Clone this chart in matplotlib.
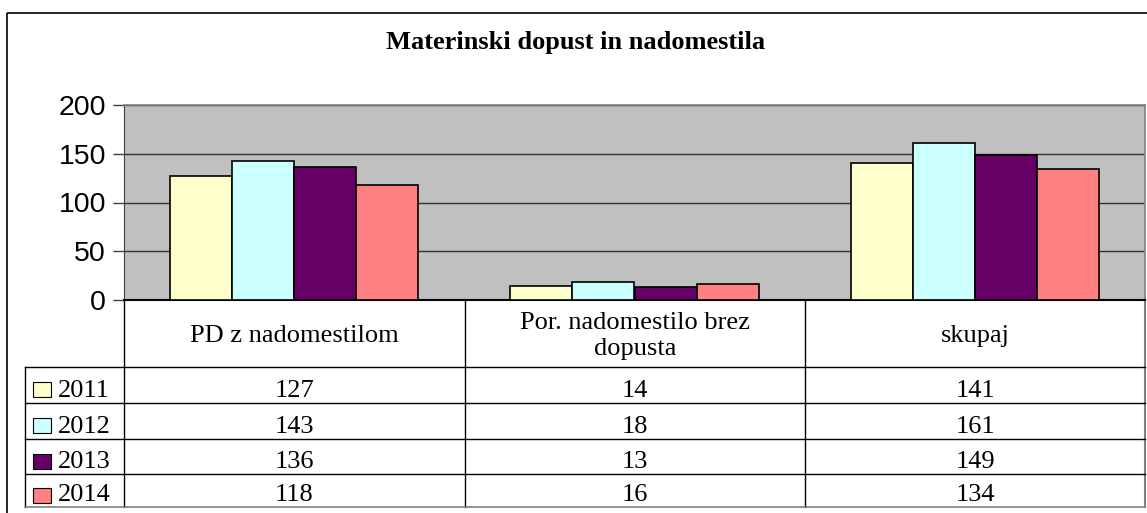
import matplotlib

matplotlib.use("Agg")
import matplotlib.pyplot as plt  # noqa: E402
from matplotlib.patches import Rectangle  # noqa: E402

categories = ["PD z nadomestilom", "Por. nadomestilo brez\ndopusta", "skupaj"]
years = ["2011", "2012", "2013", "2014"]
v2011 = [127, 14, 141]
v2012 = [143, 18, 161]
v2013 = [136, 13, 149]
v2014 = [118, 16, 134]
series = [v2011, v2012, v2013, v2014]
colors = ["#FFFFCC", "#CCFFFF", "#660066", "#FF8080"]

W, H = 1147, 513
fig = plt.figure(figsize=(W / 100, H / 100), dpi=100)

# pixel-space overlay for frame, title and data table
ov = fig.add_axes([0, 0, 1, 1])
ov.set_xlim(0, W)
ov.set_ylim(H, 0)
ov.axis("off")
ov.add_patch(Rectangle((7, 12.5), 1160, 520, fill=False, lw=1.2, ec="black"))
ov.text(576, 43, "Materinski dopust in nadomestila", ha="center", va="center",
        fontsize=19, fontweight="bold", family="Liberation Serif")

# bar chart
L, R, T, B = 124, 1145, 105, 300
ax = fig.add_axes([L / W, (H - B) / H, (R - L) / W, (B - T) / H])
ax.set_facecolor("#C0C0C0")
n = len(series)
bw = 0.73 / n
for i, (vals, c) in enumerate(zip(series, colors)):
    xs = [k - 0.365 + bw * (i + 0.5) for k in range(len(categories))]
    ax.bar(xs, vals, width=bw, color=c, edgecolor="black", lw=1.2, zorder=3)
ax.set_xlim(-0.5, len(categories) - 0.5)
ax.set_ylim(0, 200)
ax.set_yticks([0, 50, 100, 150, 200])
ax.set_yticklabels(["0", "50", "100", "150", "200"], fontsize=20.5,
                   family="Liberation Sans")
ax.tick_params(axis="y", length=8, width=1, color="#404040", pad=5)
ax.set_xticks([])
ax.grid(axis="y", color="#303030", lw=1, zorder=1)
for s in ["top", "right"]:
    ax.spines[s].set_color("#808080")
    ax.spines[s].set_linewidth(1.2)
ax.spines["left"].set_color("#404040")
ax.spines["bottom"].set_color("black")
ax.spines["bottom"].set_linewidth(1.5)

# data table below the plot
col_x = [124, 465, 805, 1145]
row_y = [367, 403, 439, 474, 507]
lc = "black"
ov.plot([124, 124], [300, 507], color=lc, lw=1)
for x in col_x[1:-1]:
    ov.plot([x, x], [300, 507], color=lc, lw=1)
ov.plot([1145, 1145], [300, 507], color="#808080", lw=1.5)
ov.plot([25, 25], [row_y[0], 507], color=lc, lw=1)
for y in row_y[:-1]:
    ov.plot([25, 1145], [y, y], color=lc, lw=1)
ov.plot([25, 1145], [507, 507], color="#808080", lw=1.2)
for k, cat in enumerate(categories):
    cx = (col_x[k] + col_x[k + 1]) / 2
    ov.text(cx, 336, cat, ha="center", va="center", fontsize=19,
            family="Liberation Serif", linespacing=1.2)
for r, (yr, vals, c) in enumerate(zip(years, series, colors)):
    base = row_y[r + 1] - 6
    cy = (row_y[r] + row_y[r + 1]) / 2
    ov.add_patch(Rectangle((33, cy - 3), 18, 15, fc=c, ec="black", lw=0.8))
    ov.text(58, base, yr, ha="left", va="baseline", fontsize=19,
            family="Liberation Serif")
    for k, v in enumerate(vals):
        cx = (col_x[k] + col_x[k + 1]) / 2
        ov.text(cx, base, str(v), ha="center", va="baseline", fontsize=19,
                family="Liberation Serif")

fig.savefig("out.png", dpi=100)
